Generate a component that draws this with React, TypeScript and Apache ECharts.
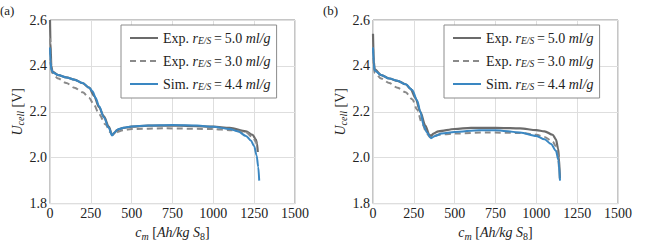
import React, { useEffect, useRef } from "react";
import * as echarts from "echarts";

// Panel (a)
const aExp50: [number, number][] = [
  [0, 2.6], [3, 2.5], [8, 2.4], [15, 2.375], [50, 2.36], [100, 2.35], [150, 2.34], [200, 2.325],
  [240, 2.305], [270, 2.27], [300, 2.22], [330, 2.18], [360, 2.135], [380, 2.1], [390, 2.105],
  [410, 2.12], [450, 2.13], [500, 2.135], [600, 2.14], [800, 2.14], [1000, 2.135], [1100, 2.13],
  [1200, 2.115], [1240, 2.1], [1260, 2.08], [1268, 2.06], [1272, 2.025],
];
const aExp30: [number, number][] = [
  [0, 2.52], [5, 2.4], [12, 2.37], [50, 2.345], [100, 2.325], [150, 2.305], [200, 2.285],
  [240, 2.26], [270, 2.23], [300, 2.19], [340, 2.145], [370, 2.11], [385, 2.1], [400, 2.11],
  [450, 2.12], [500, 2.125], [700, 2.128], [1000, 2.125], [1100, 2.12], [1200, 2.11],
  [1240, 2.09], [1260, 2.07], [1270, 2.04],
];
const aSim44: [number, number][] = [
  [0, 2.48], [3, 2.42], [8, 2.385], [20, 2.37], [50, 2.36], [100, 2.35], [150, 2.34], [200, 2.325],
  [240, 2.305], [260, 2.29], [280, 2.26], [300, 2.225], [330, 2.175], [360, 2.13], [380, 2.097],
  [395, 2.11], [420, 2.125], [460, 2.132], [500, 2.136], [600, 2.14], [750, 2.142], [900, 2.14],
  [1000, 2.135], [1100, 2.125], [1150, 2.115], [1200, 2.095], [1230, 2.075], [1250, 2.05],
  [1265, 2.01], [1275, 1.96], [1281, 1.9],
];

// Panel (b)
const bExp50: [number, number][] = [
  [0, 2.54], [5, 2.42], [10, 2.385], [50, 2.36], [100, 2.345], [150, 2.335], [200, 2.32],
  [230, 2.3], [260, 2.26], [290, 2.2], [320, 2.14], [345, 2.1], [355, 2.095], [370, 2.105],
  [400, 2.115], [500, 2.125], [600, 2.13], [750, 2.13], [900, 2.128], [1000, 2.12], [1050, 2.115],
  [1100, 2.1], [1120, 2.08], [1133, 2.04], [1139, 2.0], [1144, 1.91],
];
const bExp30: [number, number][] = [
  [0, 2.48], [5, 2.4], [10, 2.37], [50, 2.345], [100, 2.325], [150, 2.305], [200, 2.285],
  [240, 2.255], [270, 2.21], [300, 2.15], [330, 2.105], [350, 2.09], [370, 2.095], [400, 2.1],
  [500, 2.105], [700, 2.11], [900, 2.108], [1000, 2.1], [1050, 2.09], [1100, 2.07], [1120, 2.05],
  [1133, 2.01], [1139, 1.95],
];
const bSim44: [number, number][] = [
  [0, 2.48], [5, 2.41], [10, 2.38], [50, 2.36], [100, 2.345], [150, 2.335], [200, 2.32],
  [240, 2.295], [270, 2.25], [290, 2.2], [310, 2.14], [330, 2.11], [355, 2.085], [380, 2.095],
  [420, 2.105], [500, 2.112], [650, 2.12], [750, 2.12], [900, 2.11], [1000, 2.095], [1050, 2.08],
  [1090, 2.06], [1120, 2.03], [1135, 1.99], [1145, 1.9],
];

const xTicks = [0, 250, 500, 750, 1000, 1250, 1500];
const yTicks = [1.8, 2.0, 2.2, 2.4, 2.6];
const seriesNames = ["Exp. 5.0", "Exp. 3.0", "Sim. 4.4"];
const legendLabels: Record<string, string> = {
  "Exp. 5.0": "{n|Exp. }{i|r}{sub|E/S}{n|\u2009=\u20095.0 }{i|ml/g}",
  "Exp. 3.0": "{n|Exp. }{i|r}{sub|E/S}{n|\u2009=\u20093.0 }{i|ml/g}",
  "Sim. 4.4": "{n|Sim. }{i|r}{sub|E/S}{n|\u2009=\u20094.4 }{i|ml/g}",
};
const panelLabels = ["(a)", "(b)"];

const FONT = "Liberation Serif";
const C_EXP50 = "#6b6b6b";
const C_EXP30 = "#8a8a8a";
const C_SIM = "#3a87c2";
const TXT = "#222";

export default function App() {
  const ref = useRef<HTMLDivElement>(null);
  useEffect(() => {
    if (!ref.current) return;
    const chart = echarts.init(ref.current, null, { renderer: "svg" });
    const lefts = [50, 373];
    const panels = [
      [aExp50, aExp30, aSim44],
      [bExp50, bExp30, bSim44],
    ];
    const mkRich = (fs: number, sfs: number, pad: number) => ({
      i: { fontFamily: FONT, fontStyle: "italic", fontSize: fs, color: TXT },
      n: { fontFamily: FONT, fontSize: fs, color: TXT },
      sub: { fontFamily: FONT, fontStyle: "italic", fontSize: sfs, color: TXT, padding: [pad, 0, 0, 0] },
      s2: { fontFamily: FONT, fontSize: sfs, color: TXT, padding: [pad, 0, 0, 0] },
    });
    const grids = lefts.map((l) => ({
      left: l, top: 20, width: 245, height: 191,
      show: true, borderColor: "#8c8c8c", borderWidth: 1, backgroundColor: "transparent",
    }));
    const xAxes = lefts.map((_, i) => ({
      type: "value", gridIndex: i, min: 0, max: 1500, interval: 250,
      axisLine: { show: false }, axisTick: { show: false },
      splitLine: { show: true, lineStyle: { color: "#dedede", width: 1 } },
      axisLabel: { fontFamily: FONT, fontSize: 14, color: TXT, margin: 3,
        formatter: (v: number) => (xTicks.includes(v) ? String(v) : "") },
      name: "{i|c}{sub|m}{n| [}{i|Ah/kg S}{s2|8}{n|]}",
      nameLocation: "middle", nameGap: 19,
      nameTextStyle: { fontFamily: FONT, rich: mkRich(14, 10, 7) },
    }));
    const yAxes = lefts.map((_, i) => ({
      type: "value", gridIndex: i, min: 1.8, max: 2.6, interval: 0.2,
      axisLine: { show: false }, axisTick: { show: false },
      splitLine: { show: true, lineStyle: { color: "#dedede", width: 1 } },
      axisLabel: { fontFamily: FONT, fontSize: 14, color: TXT, margin: 3,
        formatter: (v: number) => {
          const t = yTicks.find((y) => Math.abs(y - v) < 1e-6);
          return t !== undefined ? t.toFixed(1) : "";
        } },
      name: "{i|U}{sub|cell}{n| [V]}",
      nameLocation: "middle", nameGap: 23, nameRotate: 90,
      nameTextStyle: { fontFamily: FONT, rich: mkRich(14, 10, 7) },
    }));
    const series: any[] = [];
    panels.forEach((p, gi) => {
      p.forEach((data, si) => {
        const c = si === 0 ? C_EXP50 : si === 1 ? C_EXP30 : C_SIM;
        series.push({
          type: "line", name: seriesNames[si], xAxisIndex: gi, yAxisIndex: gi,
          data, showSymbol: false, symbol: "none", smooth: 0.3, smoothMonotone: "x",
          lineStyle: { color: c, width: si === 0 ? 2.2 : 2, type: si === 1 ? [6, 4] : "solid" },
          itemStyle: { color: c },
          z: si === 2 ? 3 : 2,
        });
      });
    });
    const legends = lefts.map((l) => ({
      left: l + 71, top: 25, orient: "vertical", itemWidth: 28, itemHeight: 12, itemGap: 8,
      padding: [6, 6, 6, 8], backgroundColor: "#fff", borderColor: "#8c8c8c", borderWidth: 1,
      borderRadius: 0, data: seriesNames,
      itemStyle: { opacity: 0 },
      formatter: (name: string) => legendLabels[name],
      textStyle: { fontFamily: FONT, fontSize: 14, color: TXT, rich: mkRich(14, 9.5, 6) },
    }));
    chart.setOption({
      animation: false,
      textStyle: { fontFamily: FONT },
      grid: grids,
      xAxis: xAxes,
      yAxis: yAxes,
      legend: legends,
      series,
      graphic: panelLabels.map((t, i) => ({
        type: "text", left: i === 0 ? 0 : 323, top: 4,
        style: { text: t, fontFamily: FONT, fontSize: 13, fill: TXT },
      })),
    } as any);
    return () => chart.dispose();
  }, []);
  return <div ref={ref} style={{ position: "absolute", left: 0, top: 0, width: 646, height: 246 }} />;
}
